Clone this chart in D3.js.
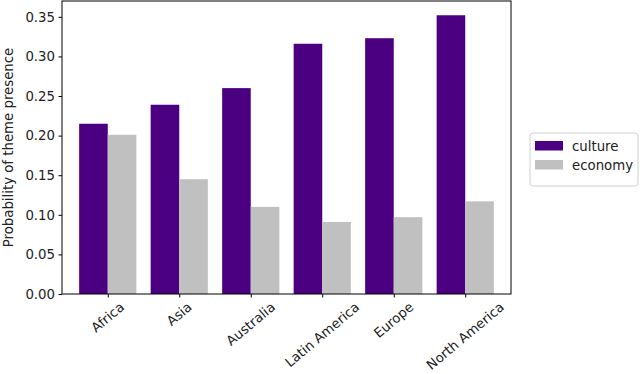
<!DOCTYPE html>
<html lang="en">
    <head>
        <meta charset="UTF-8" />
        <title>Theme presence by region</title>
        <style>
            body {
                margin: 0;
                padding: 0;
                background-color: #ffffff;
                font-family: 'DejaVu Sans', sans-serif;
            }
        </style>
    </head>
    <body>
        <div id="chart"></div>
        <script src="https://d3js.org/d3.v7.min.js"></script>
        <script>
            const regions = ['Africa', 'Asia', 'Australia', 'Latin America', 'Europe', 'North America'];
            const culture = [0.215, 0.239, 0.26, 0.316, 0.323, 0.352];
            const economy = [0.201, 0.145, 0.11, 0.091, 0.097, 0.117];
            const yTicks = [0, 0.05, 0.1, 0.15, 0.2, 0.25, 0.3, 0.35];
            const seriesNames = ['culture', 'economy'];
            const colors = ['#4b0082', '#c0c0c0'];

            const width = 640,
                height = 374;
            const plotLeft = 62,
                plotRight = 511,
                plotTop = 1,
                plotBottom = 294;
            const fs = 13.3;

            const svg = d3.select('#chart').append('svg').attr('width', width).attr('height', height);

            const x = d3.scaleLinear().domain([-0.64, regions.length - 1 + 0.64]).range([plotLeft, plotRight]);
            const y = d3.scaleLinear().domain([0, 0.37]).range([plotBottom, plotTop]);
            const barW = 0.4;

            // bars: culture left of tick, economy right of tick
            [culture, economy].forEach((vals, s) => {
                svg.append('g')
                    .selectAll('rect')
                    .data(vals)
                    .join('rect')
                    .attr('x', (d, i) => x(i - barW + s * barW))
                    .attr('width', x(barW) - x(0))
                    .attr('y', (d) => y(d))
                    .attr('height', (d) => y(0) - y(d))
                    .attr('fill', colors[s]);
            });

            // y axis
            const yAxis = svg
                .append('g')
                .attr('transform', `translate(${plotLeft},0)`)
                .call(d3.axisLeft(y).tickValues(yTicks).tickFormat(d3.format('.2f')).tickSize(3.5).tickPadding(3.5));
            yAxis.select('.domain').remove();
            yAxis.selectAll('text').style('font-size', fs + 'px').style('font-family', 'DejaVu Sans').attr('fill', '#222');

            // x axis ticks
            const xAxis = svg
                .append('g')
                .attr('transform', `translate(0,${plotBottom})`)
                .call(d3.axisBottom(x).tickValues(d3.range(regions.length)).tickSize(3.5).tickFormat(''));
            xAxis.select('.domain').remove();

            // rotated category labels, bounding box centred on the tick
            const ang = (40 * Math.PI) / 180;
            svg.append('g')
                .selectAll('text')
                .data(regions)
                .join('text')
                .text((d) => d)
                .attr('text-anchor', 'middle')
                .attr('dominant-baseline', 'central')
                .style('font-size', fs + 'px')
                .style('font-family', 'DejaVu Sans')
                .attr('fill', '#222')
                .attr('transform', function (d, i) {
                    const w = this.getComputedTextLength();
                    const half = (w * Math.sin(ang) + fs * Math.cos(ang)) / 2;
                    return `translate(${x(i)},${300 + half}) rotate(-40)`;
                });

            // frame
            svg.append('rect')
                .attr('x', plotLeft)
                .attr('y', plotTop)
                .attr('width', plotRight - plotLeft)
                .attr('height', plotBottom - plotTop)
                .attr('fill', 'none')
                .attr('stroke', '#000')
                .attr('stroke-width', 1);

            // y label
            svg.append('text')
                .attr('transform', `translate(8,${(plotTop + plotBottom) / 2}) rotate(-90)`)
                .attr('text-anchor', 'middle')
                .attr('dominant-baseline', 'central')
                .style('font-size', fs + 'px')
                .style('font-family', 'DejaVu Sans')
                .attr('fill', '#222')
                .text('Probability of theme presence');

            // legend
            const lg = svg.append('g').attr('transform', 'translate(530,133)');
            lg.append('rect').attr('width', 108).attr('height', 53).attr('rx', 3).attr('fill', '#fff').attr('stroke', '#d0d0d0');
            seriesNames.forEach((name, s) => {
                lg.append('rect').attr('x', 5).attr('y', 8 + s * 19).attr('width', 28).attr('height', 9.5).attr('fill', colors[s]);
                lg.append('text')
                    .attr('x', 42)
                    .attr('y', 13 + s * 19)
                    .attr('dominant-baseline', 'central')
                    .style('font-size', fs + 'px')
                    .style('font-family', 'DejaVu Sans')
                    .attr('fill', '#222')
                    .text(name);
            });
        </script>
    </body>
</html>
